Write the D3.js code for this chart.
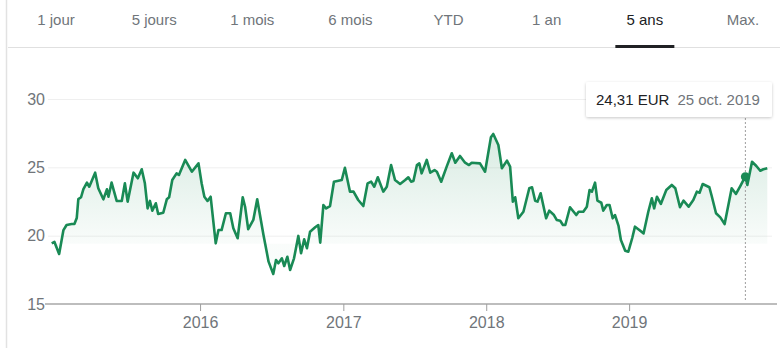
<!DOCTYPE html>
<html>
<head>
<meta charset="utf-8">
<script src="https://cdn.jsdelivr.net/npm/d3@7"></script>
<style>
  body { margin: 0; background: #fff; }
  svg { display: block; font-family: "Liberation Sans", Arial, sans-serif; }
</style>
</head>
<body>
<script>
// period tabs on top of the chart
const tabs = ['1 jour', '5 jours', '1 mois', '6 mois', 'YTD', '1 an', '5 ans', 'Max.'];
const activeTab = '5 ans';

// closing prices (EUR)
const dates = [
  '2014-12-18', '2014-12-25',
  '2015-01-06', '2015-01-17', '2015-01-25', '2015-02-07', '2015-02-14', '2015-02-20', '2015-02-24', '2015-03-03',
  '2015-03-09', '2015-03-18', '2015-03-24', '2015-04-08', '2015-04-16', '2015-04-29', '2015-05-08', '2015-05-12',
  '2015-05-20', '2015-06-02', '2015-06-15', '2015-06-23', '2015-06-30', '2015-07-15', '2015-07-26', '2015-08-05',
  '2015-08-13', '2015-08-20', '2015-08-26', '2015-09-01', '2015-09-10', '2015-09-16', '2015-09-29', '2015-10-08',
  '2015-10-14', '2015-10-22', '2015-11-02', '2015-11-08', '2015-11-24', '2015-12-11', '2015-12-28',
  '2016-01-05', '2016-01-12', '2016-01-20', '2016-01-28', '2016-02-10', '2016-02-17', '2016-02-25', '2016-03-07',
  '2016-03-18', '2016-03-26', '2016-04-06', '2016-04-19', '2016-04-25', '2016-05-03', '2016-05-16', '2016-05-26',
  '2016-06-11', '2016-06-24', '2016-07-06', '2016-07-13', '2016-07-19', '2016-07-28', '2016-08-03', '2016-08-11',
  '2016-08-18', '2016-08-28', '2016-09-08', '2016-09-15', '2016-09-23', '2016-09-30', '2016-10-08', '2016-10-21',
  '2016-10-29', '2016-11-03', '2016-11-11', '2016-11-18', '2016-11-28', '2016-12-08', '2016-12-28',
  '2017-01-05', '2017-01-18', '2017-01-27', '2017-02-08', '2017-02-21', '2017-03-04', '2017-03-13', '2017-03-21',
  '2017-03-30', '2017-04-13', '2017-04-22', '2017-05-03', '2017-05-13', '2017-05-26', '2017-06-08', '2017-06-16',
  '2017-06-23', '2017-06-29', '2017-07-08', '2017-07-14', '2017-07-20', '2017-08-02', '2017-08-11', '2017-08-22',
  '2017-08-28', '2017-09-08', '2017-09-22', '2017-10-05', '2017-10-14', '2017-10-26', '2017-11-08', '2017-11-18',
  '2017-11-25', '2017-12-16', '2017-12-29',
  '2018-01-13', '2018-01-19', '2018-02-01', '2018-02-10', '2018-02-23', '2018-03-03', '2018-03-10', '2018-03-16',
  '2018-03-24', '2018-04-06', '2018-04-21', '2018-04-28', '2018-05-06', '2018-05-12', '2018-05-20', '2018-06-03',
  '2018-06-11', '2018-06-23', '2018-06-30', '2018-07-09', '2018-07-16', '2018-07-22', '2018-08-03', '2018-08-19',
  '2018-08-25', '2018-09-06', '2018-09-15', '2018-09-22', '2018-09-28', '2018-10-06', '2018-10-12', '2018-10-22',
  '2018-10-27', '2018-11-05', '2018-11-12', '2018-11-20', '2018-11-26', '2018-12-05', '2018-12-11', '2018-12-22',
  '2018-12-30',
  '2019-01-09', '2019-01-16', '2019-01-27', '2019-02-07', '2019-02-19', '2019-02-28', '2019-03-06', '2019-03-13',
  '2019-03-23', '2019-04-06', '2019-04-20', '2019-04-29', '2019-05-11', '2019-05-20', '2019-06-02', '2019-06-14',
  '2019-06-23', '2019-06-30', '2019-07-08', '2019-07-25', '2019-07-31', '2019-08-11', '2019-08-22', '2019-09-02',
  '2019-09-20', '2019-10-01', '2019-10-12', '2019-10-20', '2019-10-25', '2019-10-30', '2019-11-11', '2019-11-22',
  '2019-12-02', '2019-12-10', '2019-12-20'
];
const prices = [
  19.44, 19.54,
  18.66, 20.41, 20.78, 20.85, 20.85, 21.29, 22.68, 22.81,
  23.41, 23.88, 23.58, 24.61, 23.47, 22.66, 23.39, 22.85,
  23.88, 22.54, 22.54, 23.83, 22.49, 24.61, 24.20, 24.86,
  23.83, 22.00, 22.54, 21.83, 22.37, 21.59, 21.68, 22.66,
  22.81, 24.07, 24.56, 24.44, 25.54, 24.68, 25.29,
  23.83, 22.85, 22.54, 22.85, 19.44, 20.41, 20.41, 21.64,
  21.64, 20.54, 19.81, 22.81, 22.12, 20.47, 21.15, 22.66,
  20.05, 18.10, 17.20, 18.22, 17.98, 18.34, 17.78, 18.46,
  17.49, 18.34, 19.98, 18.71, 19.73, 19.08, 20.29, 20.61,
  20.78, 19.49, 22.24, 22.00, 22.17, 23.95, 24.07,
  24.97, 23.22, 23.22, 22.61, 22.17, 23.83, 23.95, 23.58,
  24.27, 23.22, 23.58, 25.17, 24.07, 23.78, 24.07, 24.27,
  23.95, 24.00, 25.17, 25.29, 24.56, 25.54, 24.61, 24.80,
  24.68, 23.95, 25.05, 26.03, 25.34, 25.83, 25.34, 25.17,
  25.34, 25.29, 24.68,
  27.20, 27.44, 26.63, 24.93, 25.49, 25.05, 22.49, 22.81,
  21.27, 21.75, 23.47, 23.54, 22.56, 22.49, 23.10, 21.27,
  21.83, 21.51, 21.15, 21.09, 20.78, 20.78, 22.08, 21.51,
  21.75, 21.75, 22.12, 23.34, 23.22, 23.88, 22.56, 22.41,
  21.83, 22.24, 22.24, 21.27, 21.51, 20.71, 19.68, 18.90,
  18.83,
  19.83, 20.66, 20.41, 20.17, 21.75, 22.73, 22.00, 22.85,
  22.32, 23.34, 23.71, 23.47, 22.08, 22.56, 22.12, 22.61,
  23.22, 23.14, 23.78, 23.54, 22.90, 21.64, 21.34, 20.85,
  23.47, 23.05, 23.63, 24.07, 24.31, 23.71, 25.41, 25.10,
  24.75, 24.86, 24.93
];

const yTicks = [15, 20, 25, 30];
const yearTicks = ['2016', '2017', '2018', '2019'];
const hoverDate = '2019-10-25';
const currency = 'EUR';

const green = '#198a55';
const parse = d3.utcParse('%Y-%m-%d');
const data = dates.map((d, i) => ({ date: parse(d), price: prices[i] }));

const fr = d3.timeFormatLocale({
  dateTime: '%A %e %B %Y à %X', date: '%d/%m/%Y', time: '%H:%M:%S',
  periods: ['AM', 'PM'],
  days: ['dimanche', 'lundi', 'mardi', 'mercredi', 'jeudi', 'vendredi', 'samedi'],
  shortDays: ['dim.', 'lun.', 'mar.', 'mer.', 'jeu.', 'ven.', 'sam.'],
  months: ['janvier', 'février', 'mars', 'avril', 'mai', 'juin', 'juillet', 'août', 'septembre', 'octobre', 'novembre', 'décembre'],
  shortMonths: ['janv.', 'févr.', 'mars', 'avr.', 'mai', 'juin', 'juil.', 'août', 'sept.', 'oct.', 'nov.', 'déc.']
});
const frDate = fr.utcFormat('%-d %b %Y');
const frPrice = d3.formatLocale({ decimal: ',', thousands: ' ', grouping: [3], currency: ['', ' €'] }).format('.2f');

const svg = d3.select('body').append('svg')
    .attr('width', 780)
    .attr('height', 348);

const defs = svg.append('defs');

// left page border
svg.append('line')
    .attr('x1', 6.5).attr('x2', 6.5)
    .attr('y1', 0).attr('y2', 348)
    .attr('stroke', '#e2e2e2')
    .attr('stroke-width', 1.5);

// tabs
const tabX = d3.scalePoint().domain(tabs).range([56, 743]);

svg.append('line')
    .attr('x1', 8).attr('x2', 780)
    .attr('y1', 47.5).attr('y2', 47.5)
    .attr('stroke', '#e0e0e0');

svg.selectAll('text.tab')
    .data(tabs)
    .enter()
    .append('text')
    .attr('class', 'tab')
    .attr('x', (d) => tabX(d))
    .attr('y', 25)
    .attr('text-anchor', 'middle')
    .attr('font-size', 15)
    .attr('fill', (d) => d === activeTab ? '#202124' : '#70757a')
    .text((d) => d);

svg.append('rect')
    .attr('x', tabX(activeTab) - 29.5)
    .attr('y', 45)
    .attr('width', 59)
    .attr('height', 3)
    .attr('fill', '#202124');

// scales
const x = d3.scaleUtc()
    .domain(d3.extent(data, (d) => d.date))
    .range([51.7, 767.3]);

const y = d3.scaleLinear()
    .domain([15, 30])
    .range([304, 99]);

// grid
svg.append('g')
    .selectAll('line')
    .data(yTicks.slice(1))
    .enter()
    .append('line')
    .attr('x1', 48).attr('x2', 772)
    .attr('y1', (d) => y(d) + 0.5).attr('y2', (d) => y(d) + 0.5)
    .attr('stroke', '#efefef');

// area with fading gradient
const grad = defs.append('linearGradient')
    .attr('id', 'fill')
    .attr('gradientUnits', 'userSpaceOnUse')
    .attr('x1', 0).attr('x2', 0)
    .attr('y1', y(27.5)).attr('y2', y(19.4));
grad.append('stop').attr('offset', 0).attr('stop-color', green).attr('stop-opacity', 0.17);
grad.append('stop').attr('offset', 1).attr('stop-color', green).attr('stop-opacity', 0.025);

const area = d3.area()
    .x((d) => x(d.date))
    .y0(y(19.4))
    .y1((d) => y(d.price));

svg.append('path')
    .datum(data)
    .attr('d', area)
    .attr('fill', 'url(#fill)');

// y axis labels
const yAxis = svg.append('g')
    .attr('transform', 'translate(48,0)')
    .call(d3.axisLeft(y).tickValues(yTicks).tickSize(0).tickPadding(3));
yAxis.select('.domain').remove();
yAxis.selectAll('text')
    .attr('font-size', 16)
    .attr('font-family', '"Liberation Sans", Arial, sans-serif')
    .attr('fill', '#70757a');

// x axis
svg.append('line')
    .attr('x1', 45).attr('x2', 777)
    .attr('y1', 304).attr('y2', 304)
    .attr('stroke', '#bdbdbd')
    .attr('stroke-width', 2);

const xAxis = svg.append('g')
    .attr('transform', 'translate(0,304)')
    .call(d3.axisBottom(x)
        .tickValues(yearTicks.map((t) => parse(t + '-01-01')))
        .tickFormat(d3.utcFormat('%Y'))
        .tickSize(7)
        .tickPadding(6));
xAxis.select('.domain').remove();
xAxis.selectAll('line').attr('stroke', '#9e9e9e');
xAxis.selectAll('text')
    .attr('font-size', 16)
    .attr('font-family', '"Liberation Sans", Arial, sans-serif')
    .attr('fill', '#70757a');

// price line
const line = d3.line()
    .x((d) => x(d.date))
    .y((d) => y(d.price));

svg.append('path')
    .datum(data)
    .attr('d', line)
    .attr('fill', 'none')
    .attr('stroke', green)
    .attr('stroke-width', 2.6)
    .attr('stroke-linejoin', 'round');

// hover marker + tooltip
const hover = data.find((d, i) => dates[i] === hoverDate);
const hx = x(hover.date);

svg.append('line')
    .attr('x1', hx).attr('x2', hx)
    .attr('y1', 118).attr('y2', 302)
    .attr('stroke', '#9e9e9e')
    .attr('stroke-dasharray', '2,2');

svg.append('circle')
    .attr('cx', hx)
    .attr('cy', y(hover.price))
    .attr('r', 4.5)
    .attr('fill', green);

const shadow = defs.append('filter')
    .attr('id', 'shadow')
    .attr('x', -0.1).attr('y', -0.3)
    .attr('width', 1.2).attr('height', 1.8);
shadow.append('feDropShadow')
    .attr('dx', 0).attr('dy', 1)
    .attr('stdDeviation', 1.5)
    .attr('flood-color', '#000')
    .attr('flood-opacity', 0.22);

const tip = svg.append('g');
tip.append('rect')
    .attr('x', 586).attr('y', 82)
    .attr('width', 186).attr('height', 35)
    .attr('rx', 2)
    .attr('fill', '#fff')
    .attr('filter', 'url(#shadow)');

const priceText = tip.append('text')
    .attr('x', 596).attr('y', 105)
    .attr('font-size', 15)
    .attr('fill', '#202124')
    .text(frPrice(hover.price) + ' ' + currency);

tip.append('text')
    .attr('x', 596 + priceText.node().getComputedTextLength() + 8)
    .attr('y', 105)
    .attr('font-size', 15)
    .attr('fill', '#70757a')
    .text(frDate(hover.date));
</script>
</body>
</html>
